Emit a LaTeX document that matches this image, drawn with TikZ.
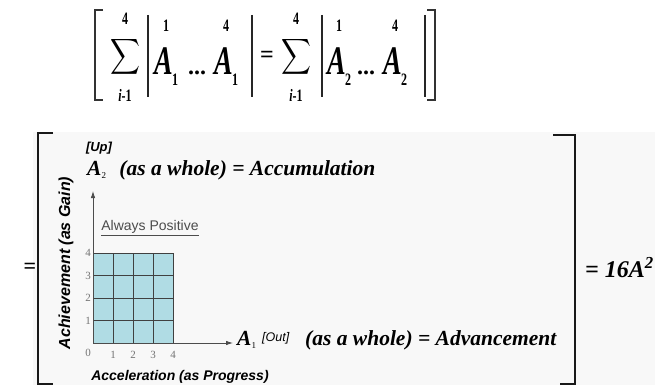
\documentclass[tikz,border=0pt]{standalone}
\usepackage{fontspec}
\usepackage{exscale}
\usepackage{graphicx}
\setmainfont{Liberation Serif}
\setsansfont{Liberation Sans}
\usetikzlibrary{positioning,arrows.meta}

% colours of the chart
\definecolor{cellfill}{RGB}{176,220,228}
\definecolor{panelbg}{RGB}{248,248,248}

% tall letters of the top formula
\newcommand{\tallA}[1]{\scalebox{1}[1.45]{#1}}

\begin{document}
\begin{tikzpicture}[
  x=1pt, y=-1pt,
  tbrk/.style={line width=1.2pt, draw=black!80},
  tbar/.style={line width=1.4pt, draw=black!85},
  brk/.style={line width=2.4pt, draw=black!90},
  axis/.style={draw=black!70, line width=0.8pt, -{Latex[length=7pt,width=4.5pt]}},
  cell/.style={draw=black!75, line width=0.9pt},
  topA/.style={font=\fontsize{28}{30}\selectfont\bfseries\itshape, inner sep=0pt, anchor=base},
  topnum/.style={font=\fontsize{12}{13}\selectfont\bfseries, inner sep=0pt},
  tick/.style={font=\fontsize{11}{12}\selectfont, text=black!55, inner sep=0pt},
  big/.style={font=\fontsize{21.5}{24}\selectfont\bfseries\itshape, inner sep=0pt},
  lab/.style={font=\sffamily\bfseries\itshape, inner sep=0pt},
  tag/.style={font=\fontsize{12.5}{14}\selectfont\sffamily\itshape, inner sep=0pt}
]
  \useasboundingbox (0,0) rectangle (664,385);
  \fill[panelbg] (33,132) rectangle (655,385);

  % top formula: two sums with limits
  \foreach \x/\n in {125/L, 296/R} {
    \node[inner sep=0pt, text height=12pt, text depth=12pt] (sum\n) at (\x,63) {\scalebox{1}[1.2]{\fontsize{21}{24}\selectfont$\displaystyle\sum$}};
    \node[topnum] (sumtop\n) at (\x,19) {\tallA{4}};
    \node[topnum] (sumbot\n) at (\x,95) {\tallA{\textit{i}-1}};
  }
  % the four A's with upper and lower numbers
  \foreach \x/\u/\s/\k in {164/1/1/1, 224/4/1/2, 337/1/2/3, 393/4/2/4} {
    \node[topA] (a\k) at (\x,75) {\tallA{A}};
    \node[topnum] (au\k) at (\x+2,26) {\tallA{\u}};
    \node[topnum] (as\k) at (\x+11,80) {\tallA{\s}};
  }
  \node[topA, font=\fontsize{24}{26}\selectfont\bfseries] (dotsL) at (197,75) {...};
  \node[topA, font=\fontsize{24}{26}\selectfont\bfseries] (dotsR) at (366,75) {...};
  \node[inner sep=0pt, font=\fontsize{24}{26}\selectfont\bfseries] (eqtop) at (267,57) {=};
  \foreach \x in {148,252,322,425}
    \draw[tbar] (\x,15) -- (\x,97);
  \draw[tbrk] (103,10) -- (95,10) -- (95,100) -- (103,100);
  \draw[tbrk] (427,10) -- (435,10) -- (435,100) -- (427,100);

  % big brackets round the chart
  \node[font=\fontsize{22}{24}\selectfont\bfseries, inner sep=0pt] (eqmark) at (30,268) {=};
  \draw[brk] (53,133) -- (38,133) -- (38,384) -- (53,384);
  \draw[brk] (553,135) -- (575,135) -- (575,384) -- (560,384);
  \node[big, font=\fontsize{24}{26}\selectfont\bfseries\itshape, anchor=west] (total) at (585,268) {= 16A\textsuperscript{2}};

  % grid 4 x 4
  \fill[cellfill] (93,253) rectangle (173,343);
  \foreach \i in {1,...,4} {
    \draw[cell] (93+\i*20,253) -- (93+\i*20,343);
    \draw[cell] (93,343-\i*22.5) -- (173,343-\i*22.5);
  }

  % axes
  \coordinate (origin) at (93,343);
  \coordinate (ytop) at (93,191);
  \coordinate (xend) at (233,343);
  \draw[axis] (origin) -- (ytop);
  \draw[axis] (origin) -- (xend);

  % tick labels
  \node[tick] (t0) at (88,353) {0};
  \foreach \i in {1,...,4} {
    \node[tick] (tx\i) at (93+\i*20,355) {\i};
    \node[tick] (ty\i) at (88,343-\i*22.5) {\i};
  }

  % texts
  \node[font=\fontsize{14}{16}\selectfont\sffamily, text=black!70, inner sep=0pt] (pos) at (150,228) {\underline{Always Positive}};
  \node[lab, font=\fontsize{16}{18}\selectfont\sffamily\bfseries\itshape, rotate=90] (ylab) at (66,263) {Achievement (as Gain)};
  \node[lab, font=\fontsize{14}{16}\selectfont\sffamily\bfseries\itshape] (xlab) at (180,377) {Acceleration (as Progress)};
  \node[tag, font=\fontsize{13}{15}\selectfont\sffamily\bfseries\itshape] (up) at (99,148) {[Up]};
  \node[big, anchor=west] (acc) at (87,170) {A\textsubscript{\normalfont\small 2}\hspace{0.6em}(as a whole) = Accumulation};
  \node[big, anchor=west] (aone) at (237,340) {A\textsubscript{\normalfont\small 1}};
  \node[tag, anchor=west] (out) at (262,338) {[Out]};
  \node[big, anchor=west] (adv) at (305,340) {(as a whole) = Advancement};
\end{tikzpicture}
\end{document}
